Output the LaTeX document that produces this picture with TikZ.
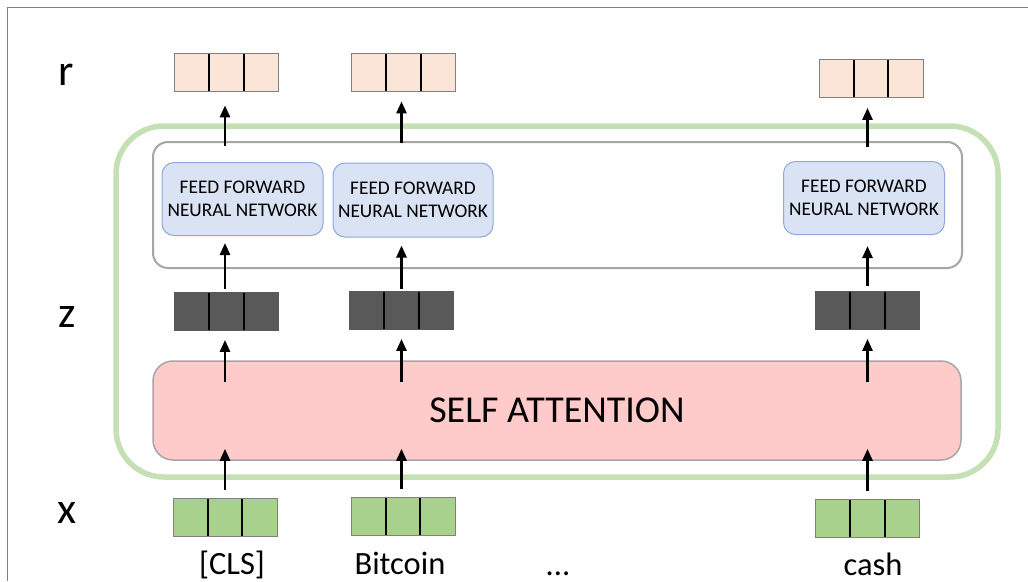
\documentclass[tikz,border=0pt]{standalone}
\usepackage{fontspec}
\setmainfont{Carlito}
\usetikzlibrary{arrows.meta,calc}
\definecolor{peach}{HTML}{FBE5D6}
\definecolor{darkv}{HTML}{595959}
\definecolor{greenv}{HTML}{A9D18E}
\definecolor{ffnfill}{HTML}{DAE3F3}
\definecolor{ffnline}{HTML}{8EA9DB}
\definecolor{safill}{HTML}{FFCACA}
\definecolor{grayline}{HTML}{A6A6A6}
\definecolor{outergreen}{HTML}{C5E0B4}
\definecolor{framec}{HTML}{808080}
\tikzset{
  vec/.style={draw=framec, line width=0.8pt, minimum width=104pt, minimum height=38pt, inner sep=0pt,
    path picture={
      \draw[black, line width=1.8pt]
        ($(path picture bounding box.south west)!1/3!(path picture bounding box.south east)$) --
        ($(path picture bounding box.north west)!1/3!(path picture bounding box.north east)$);
      \draw[black, line width=1.8pt]
        ($(path picture bounding box.south west)!2/3!(path picture bounding box.south east)$) --
        ($(path picture bounding box.north west)!2/3!(path picture bounding box.north east)$);
    }},
  ffn/.style={draw=ffnline, line width=1pt, fill=ffnfill, rounded corners=12pt, minimum width=161pt,
    minimum height=73pt, inner sep=0pt, align=center, font=\fontsize{19.3}{23}\selectfont},
  arr/.style={line width=2.6pt, -{Triangle[length=12pt,width=10pt]}},
  lbl/.style={anchor=base, inner sep=0pt, font=\fontsize{44}{44}\selectfont},
  word/.style={anchor=base, inner sep=0pt, text depth=0pt, font=\fontsize{32.5}{32.5}\selectfont},
}
\begin{document}
\begin{tikzpicture}[x=1pt,y=-1pt]
\useasboundingbox[fill=white] (0,0) rectangle (1028,581);
% frame
\draw[framec, line width=1pt] (7,581) -- (7,7) -- (1028,7);
% outer green box
\node[draw=outergreen, line width=5.5pt, rounded corners=48pt, minimum width=882pt, minimum height=351pt, inner sep=0pt] (enc) at (557,301.5) {};
% gray FFN container
\node[draw=grayline, line width=2pt, rounded corners=15pt, minimum width=809pt, minimum height=126pt, inner sep=0pt] (g) at (557.5,205) {};
% self attention
\node[draw=grayline, line width=1.5pt, fill=safill, rounded corners=20pt, minimum width=808pt, minimum height=99pt, inner sep=0pt, font=\fontsize{38}{38}\selectfont] (sa) at (557,410.5) {SELF ATTENTION};
% r vectors
\node[vec, fill=peach] (r1) at (226.5,72) {};
\node[vec, fill=peach] (r2) at (403.5,72) {};
\node[vec, fill=peach] (r3) at (871,78.5) {};
% FFN
\node[ffn] (f1) at (242.5,199) {FEED FORWARD\\NEURAL NETWORK};
\node[ffn, minimum width=160pt, minimum height=74pt] (f2) at (413,200) {FEED FORWARD\\NEURAL NETWORK};
\node[ffn] (f3) at (864,198) {FEED FORWARD\\NEURAL NETWORK};
% z vectors
\node[vec, fill=darkv, draw=darkv] (z1) at (226.5,311.5) {};
\node[vec, fill=darkv, draw=darkv] (z2) at (401.5,310.5) {};
\node[vec, fill=darkv, draw=darkv] (z3) at (867.5,310.5) {};
% x vectors
\node[vec, fill=greenv] (x1) at (225,517.5) {};
\node[vec, fill=greenv] (x2) at (403,516.5) {};
\node[vec, fill=greenv] (x3) at (867.5,518) {};
% row labels
\node[lbl] (lr) at (66,85) {r};
\node[lbl] (lz) at (67,327) {z};
\node[lbl] (lx) at (67,523) {x};
% words
\node[word] (w1) at (232,574) {[CLS]};
\node[word] (w2) at (400,574) {Bitcoin};
\node[word] (w3) at (558,575) {...};
\node[word] (w4) at (873,575) {cash};
% arrows x -> SA
\draw[arr, shorten <=8pt, shorten >=-12pt] (x1.north) -- (x1.north |- sa.south);
\draw[arr, shorten <=8pt, shorten >=-12pt] (z2.north |- x2.north) -- (z2.north |- sa.south);
\draw[arr, shorten <=8pt, shorten >=-12pt] (x3.north) -- (x3.north |- sa.south);
% arrows SA -> z
\draw[arr, shorten <=-22pt, shorten >=9pt] (x1.north |- sa.north) -- (x1.north |- z1.south);
\draw[arr, shorten <=-22pt, shorten >=9pt] (z2.south |- sa.north) -- (z2.south);
\draw[arr, shorten <=-22pt, shorten >=9pt] (z3.south |- sa.north) -- (z3.south);
% arrows z -> FFN
\draw[arr, shorten <=3pt, shorten >=7pt] (x1.north |- z1.north) -- (x1.north |- f1.south);
\draw[arr, shorten <=2pt, shorten >=8pt] (z2.north) -- (z2.north |- f2.south);
\draw[arr, shorten <=5pt, shorten >=11pt] (z3.north) -- (z3.north |- f3.south);
% arrows FFN -> r
\draw[arr, shorten <=16pt, shorten >=14pt] (x1.north |- f1.north) -- (x1.north |- r1.south);
\draw[arr, shorten <=20pt, shorten >=10pt] (z2.north |- f2.north) -- (z2.north |- r2.south);
\draw[arr, shorten <=14pt, shorten >=10pt] (z3.north |- f3.north) -- (z3.north |- r3.south);
\end{tikzpicture}
\end{document}
